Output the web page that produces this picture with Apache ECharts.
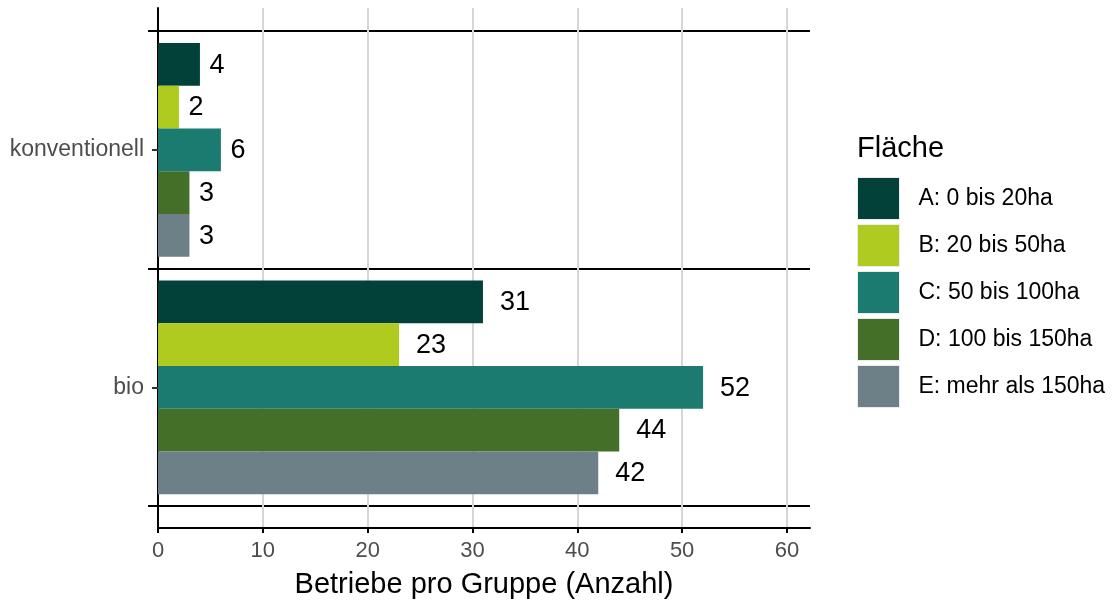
<!DOCTYPE html>
<html>
<head>
<meta charset="utf-8">
<script src="https://cdn.jsdelivr.net/npm/echarts@6/dist/echarts.min.js"></script>
<style>
html,body{margin:0;padding:0;background:#fff;}
#chart{width:1112px;height:604px;}
</style>
</head>
<body>
<div id="chart"></div>
<script>
// ---- data ----
const categories = ['konventionell', 'bio'];
const seriesNames = ['A: 0 bis 20ha', 'B: 20 bis 50ha', 'C: 50 bis 100ha', 'D: 100 bis 150ha', 'E: mehr als 150ha'];
const valuesA = [4, 31];
const valuesB = [2, 23];
const valuesC = [6, 52];
const valuesD = [3, 44];
const valuesE = [3, 42];
const xTicks = [0, 10, 20, 30, 40, 50, 60];
const legendTitle = 'Fläche';
const xTitle = 'Betriebe pro Gruppe (Anzahl)';

// ---- styles ----
const colors = ['#02403a', '#afcb1f', '#1b7b70', '#436f29', '#6d7f87'];
const allValues = [valuesA, valuesB, valuesC, valuesD, valuesE];
const FONT = 'Liberation Sans, Arial, sans-serif';
const labelSize = 27;

function items(vals) {
  return vals.map(v => ({
    value: v,
    label: { distance: 0.5 * String(v).length * 0.556 * labelSize + 2 }
  }));
}

const series = seriesNames.map((name, i) => ({
  name: name,
  type: 'bar',
  xAxisIndex: 1,
  yAxisIndex: 1,
  data: items(allValues[i]),
  itemStyle: { color: colors[i] },
  barGap: '0%',
  barCategoryGap: '10%',
  label: {
    show: true,
    position: 'right',
    color: '#000',
    fontSize: labelSize,
    fontFamily: FONT,
    offset: [0, 1]
  },
  z: 3
}));

const chart = echarts.init(document.getElementById('chart'), null, { renderer: 'canvas' });
chart.setOption({
  backgroundColor: '#fff',
  animation: false,
  title: {
    text: legendTitle,
    left: 852,
    top: 134,
    padding: [0, 0, 0, 5],
    textStyle: { fontSize: 29, fontWeight: 'normal', color: '#000', fontFamily: FONT }
  },
  legend: {
    data: seriesNames,
    orient: 'vertical',
    left: 857,
    top: 177,
    padding: 0,
    itemWidth: 42,
    itemHeight: 42,
    itemGap: 4,
    icon: 'rect',
    selectedMode: false,
    itemStyle: { borderColor: '#ececec', borderWidth: 1 },
    textStyle: { fontSize: 23, color: '#000', fontFamily: FONT, padding: [0, 0, 0, 14] }
  },
  grid: [
    { left: 158, right: 302, top: 8, bottom: 74, containLabel: false },
    { left: 158, right: 302, top: 31, bottom: 98, containLabel: false }
  ],
  xAxis: [
    {
      gridIndex: 0,
      type: 'value',
      min: xTicks[0],
      max: 62.2,
      interval: 10,
      name: xTitle,
      nameLocation: 'middle',
      nameGap: 42,
      nameTextStyle: { fontSize: 29, color: '#000', fontFamily: FONT },
      axisLine: { show: true, lineStyle: { color: '#000', width: 2 } },
      axisTick: { show: true, length: 5, lineStyle: { color: '#000', width: 2 } },
      axisLabel: {
        fontSize: 22, color: '#4d4d4d', fontFamily: FONT, margin: 12,
        showMaxLabel: false,
        formatter: v => (xTicks.indexOf(v) >= 0 ? String(v) : '')
      },
      splitLine: { show: true, showMaxLine: false, lineStyle: { color: '#d6d6d6', width: 2 } }
    },
    {
      gridIndex: 1,
      type: 'value',
      min: xTicks[0],
      max: 62.2,
      show: false
    }
  ],
  yAxis: [
    {
      gridIndex: 0,
      type: 'value',
      min: 0,
      max: 1,
      axisLine: { show: true, lineStyle: { color: '#000', width: 2 } },
      axisTick: { show: false },
      axisLabel: { show: false },
      splitLine: { show: false }
    },
    {
      gridIndex: 1,
      type: 'category',
      data: categories,
      inverse: true,
      position: 'left',
      axisLine: { show: false },
      axisTick: { show: true, length: 10, lineStyle: { color: '#000', width: 2 } },
      axisLabel: { show: false },
      splitLine: { show: true, lineStyle: { color: '#000', width: 2 } }
    },
    {
      gridIndex: 1,
      type: 'category',
      data: categories,
      inverse: true,
      position: 'left',
      axisLine: { show: false },
      axisTick: { show: true, alignWithLabel: true, length: 6, lineStyle: { color: '#333', width: 2 } },
      axisLabel: { fontSize: 23, color: '#4d4d4d', fontFamily: FONT, margin: 14, padding: [3, 0, 0, 0] },
      splitLine: { show: false }
    }
  ],
  series: series
});
</script>
</body>
</html>
